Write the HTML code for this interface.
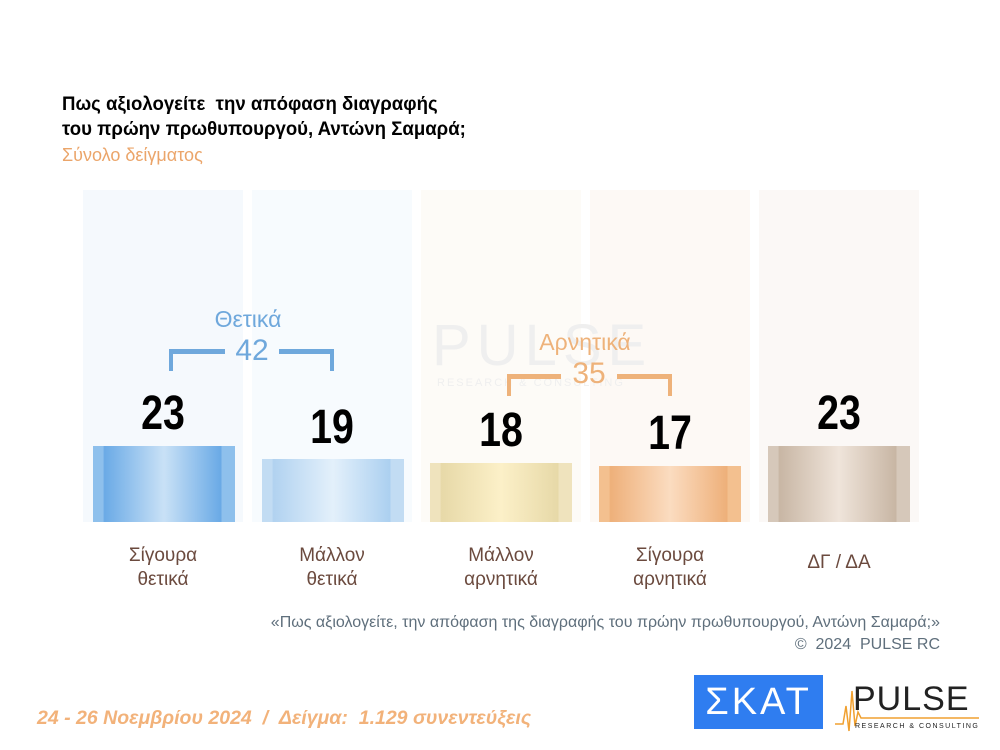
<!DOCTYPE html>
<html><head><meta charset="utf-8"><style>
body{margin:0;width:1000px;height:750px;background:#fff;position:relative;overflow:hidden;font-family:"Liberation Sans",sans-serif}
.a{position:absolute}
.col{position:absolute;top:190px;height:332px;width:160px}
.bar{position:absolute;width:142px}
.num{position:absolute;width:160px;text-align:center;font-weight:bold;font-size:48px;color:#000;transform:scaleX(0.82)}
.cat{position:absolute;width:160px;text-align:center;font-size:19px;color:#6b4a3e;line-height:24px}
.b{position:absolute}
</style></head><body>
<div class="a" style="left:62px;top:92px;font-weight:bold;font-size:19px;line-height:25px;color:#000;transform-origin:0 0;transform:scaleX(0.98)">Πως αξιολογείτε &nbsp;την απόφαση διαγραφής<br>του πρώην πρωθυπουργού, Αντώνη Σαμαρά;</div>
<div class="a" style="left:62px;top:145px;font-size:18px;color:#eba56a">Σύνολο δείγματος</div>

<div class="col" style="left:83px;background:#f5f9fd"></div>
<div class="col" style="left:252px;background:#f7fbfe"></div>
<div class="col" style="left:421px;background:#fdfbf7"></div>
<div class="col" style="left:590px;background:#fdf9f5"></div>
<div class="col" style="left:759px;background:#fbf8f6"></div>

<div class="a" style="left:432px;top:312px;font-size:58px;color:#efefef;letter-spacing:6px">PULSE</div>
<div class="a" style="left:437px;top:377px;font-size:11px;color:#efefef;letter-spacing:2px">RESEARCH &amp; CONSULTING</div>

<div class="bar" style="left:93px;top:446px;height:76px;background:linear-gradient(90deg,#8ec0ec 0%,#8ec0ec 7%,#6aaae6 8%,#c9e1f6 50%,#6aaae6 90%,#8ec0ec 91%)"></div>
<div class="bar" style="left:262px;top:459px;height:63px;background:linear-gradient(90deg,#c2dcf3 0%,#c2dcf3 7%,#b1d2f0 8%,#e3f0fb 50%,#acd0f0 90%,#c2dcf3 91%)"></div>
<div class="bar" style="left:430px;top:463px;height:59px;background:linear-gradient(90deg,#efe3bd 0%,#efe3bd 7%,#e7d9a8 8%,#fcf0c8 50%,#e7d9a8 90%,#efe3bd 91%)"></div>
<div class="bar" style="left:599px;top:466px;height:56px;background:linear-gradient(90deg,#f3c08f 0%,#f3c08f 7%,#eeb07a 8%,#fbdcc0 50%,#eeb07a 90%,#f3c08f 91%)"></div>
<div class="bar" style="left:768px;top:446px;height:76px;background:linear-gradient(90deg,#d6c8ba 0%,#d6c8ba 7%,#c8b6a4 8%,#efe4da 50%,#c8b6a4 90%,#d6c8ba 91%)"></div>

<div class="num" style="left:83px;top:386px">23</div>
<div class="num" style="left:252px;top:400px">19</div>
<div class="num" style="left:421px;top:403px">18</div>
<div class="num" style="left:590px;top:406px">17</div>
<div class="num" style="left:759px;top:386px">23</div>

<div class="a" style="left:198px;top:306px;width:100px;text-align:center;font-size:23px;color:#6fa8dc">Θετικά</div>
<div class="b" style="left:169px;top:349px;width:4px;height:22px;background:#6fa8dc"></div>
<div class="b" style="left:169px;top:349px;width:56px;height:5px;background:#6fa8dc"></div>
<div class="a" style="left:226px;top:334px;width:52px;text-align:center;font-size:30px;color:#6fa8dc">42</div>
<div class="b" style="left:279px;top:349px;width:55px;height:5px;background:#6fa8dc"></div>
<div class="b" style="left:330px;top:349px;width:4px;height:22px;background:#6fa8dc"></div>

<div class="a" style="left:530px;top:329px;width:110px;text-align:center;font-size:23px;color:#eeb27a">Αρνητικά</div>
<div class="b" style="left:507px;top:374px;width:4px;height:22px;background:#eeb27a"></div>
<div class="b" style="left:507px;top:374px;width:54px;height:5px;background:#eeb27a"></div>
<div class="a" style="left:563px;top:357px;width:52px;text-align:center;font-size:30px;color:#eeb27a">35</div>
<div class="b" style="left:617px;top:374px;width:55px;height:5px;background:#eeb27a"></div>
<div class="b" style="left:668px;top:374px;width:4px;height:22px;background:#eeb27a"></div>

<div class="cat" style="left:83px;top:544px">Σίγουρα<br>θετικά</div>
<div class="cat" style="left:252px;top:544px">Μάλλον<br>θετικά</div>
<div class="cat" style="left:421px;top:544px">Μάλλον<br>αρνητικά</div>
<div class="cat" style="left:590px;top:544px">Σίγουρα<br>αρνητικά</div>
<div class="cat" style="left:759px;top:551px">ΔΓ / ΔΑ</div>

<div class="a" style="right:60px;top:612px;text-align:right;font-size:16px;line-height:22px;color:#5f6f7c">«Πως αξιολογείτε, την απόφαση της διαγραφής του πρώην πρωθυπουργού, Αντώνη Σαμαρά;»<br>© &nbsp;2024 &nbsp;PULSE RC</div>

<div class="a" style="left:37px;top:707px;font-size:19.5px;font-weight:bold;font-style:italic;color:#f2b27a">24 - 26 Νοεμβρίου 2024 &nbsp;/ &nbsp;Δείγμα: &nbsp;1.129 συνεντεύξεις</div>

<div class="a" style="left:694px;top:675px;width:129px;height:54px;background:#2f7df0;color:#fff;font-size:38px;line-height:54px;text-align:center;letter-spacing:3px">ΣΚΑΤ</div>
<svg class="a" style="left:833px;top:676px" width="160" height="58">
<polyline points="2,48 10,48 13,30 16,55 19,15 22,50 25,36 28,42 40,42 146,42" fill="none" stroke="#f0a030" stroke-width="1.5"/>
<text x="20" y="34" font-family="Liberation Sans" font-size="34" fill="#222" letter-spacing="1">PULSE</text>
<text x="22" y="52" font-family="Liberation Sans" font-size="7" fill="#222" letter-spacing="1.5">RESEARCH &amp; CONSULTING</text>
</svg>
</body></html>
